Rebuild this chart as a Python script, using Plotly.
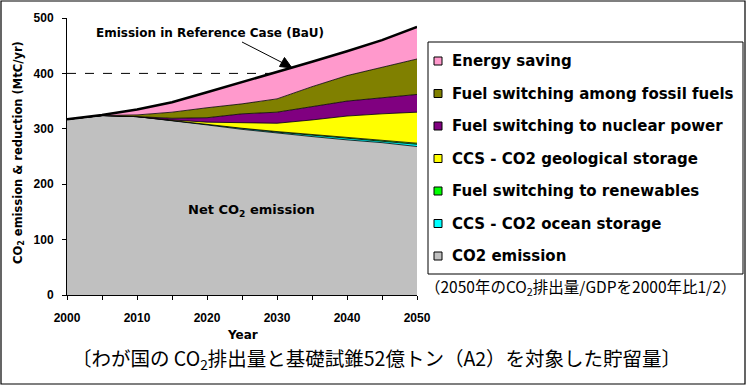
import numpy as np
import plotly.graph_objects as go

# ---------------- data ----------------
years = [2000, 2005, 2010, 2015, 2020, 2025, 2030, 2035, 2040, 2045, 2050]
net_co2 = [317, 324, 322, 315, 307, 299, 292, 286, 280, 275, 268]
ocean_storage = [0, 0, 0, 0, 0, 1, 2, 2.5, 3, 3.5, 4]
renewables = [0, 0, 0, 0, 0.5, 1, 1, 1.5, 1.5, 1.5, 2]
geo_storage = [0, 0, 0, 1, 4.5, 10, 15, 26, 38.5, 47, 56]
nuclear = [0, 0, 0, 3, 8, 16, 20, 24, 27, 29, 32]
fossil_switch = [0, 0, 3, 11, 18, 18, 24, 36, 46, 55, 64]
energy_saving = [0, 1, 10, 18, 28, 39, 48, 45, 44, 49, 58]

series_names = ["CO2 emission", "CCS - CO2 ocean storage", "Fuel switching to renewables",
                "CCS - CO2 geological storage", "Fuel switching to nuclear power",
                "Fuel switching among fossil fuels", "Energy saving"]
series_values = [net_co2, ocean_storage, renewables, geo_storage, nuclear, fossil_switch, energy_saving]
series_colors = ["#C0C0C0", "#00FFFF", "#00FF00", "#FFFF00", "#800080", "#808000", "#FF99CC"]

x_tick_vals = [2000, 2010, 2020, 2030, 2040, 2050]
x_minor_vals = [2005, 2015, 2025, 2035, 2045]
y_tick_vals = [0, 100, 200, 300, 400, 500]
reference_level = 400

# ---------------- layout geometry (pixels) ----------------
W, H = 750, 388
PL, PR, PT, PB = 67, 417, 18, 295  # plot area in pixels


def px(xp):
    return (xp - PL) / (PR - PL)


def py(yp):
    return (PB - yp) / (PB - PT)


FONT = "Arial, Liberation Sans, sans-serif"
WFONT = "DejaVu Sans, sans-serif"
JFONT = "Noto Sans CJK JP, sans-serif"

fig = go.Figure()
for name, vals, col in zip(series_names, series_values, series_colors):
    is_top = name == "Energy saving"
    fig.add_trace(go.Scatter(
        x=years, y=vals, name=name, stackgroup="one", mode="lines",
        fillcolor=col,
        line=dict(color="black", width=2.5 if is_top else 0.8),
        showlegend=False,
    ))

bau = np.sum(np.array(series_values, dtype=float), axis=0)
x_cross = float(np.interp(reference_level, bau, years))

shapes = []
annotations = []

shapes.append(dict(type="line", xref="x", yref="y", x0=years[0], x1=x_cross,
                   y0=reference_level, y1=reference_level,
                   line=dict(color="black", width=1, dash="dash"), layer="above"))

shapes.append(dict(type="rect", xref="paper", yref="paper",
                   x0=px(1), x1=px(745), y0=py(384), y1=py(1),
                   line=dict(color="black", width=1.2), fillcolor="rgba(0,0,0,0)"))

shapes.append(dict(type="rect", xref="paper", yref="paper",
                   x0=px(428), x1=px(743), y0=py(274), y1=py(42),
                   line=dict(color="black", width=1), fillcolor="white"))

legend_order = list(range(len(series_names)))[::-1]
for i, idx in enumerate(legend_order):
    yc = 61 + 32.5 * i
    shapes.append(dict(type="rect", xref="paper", yref="paper",
                       x0=px(434), x1=px(442), y0=py(yc + 4), y1=py(yc - 4),
                       line=dict(color="black", width=1), fillcolor=series_colors[idx]))
    annotations.append(dict(xref="paper", yref="paper", x=px(450), y=py(yc),
                            xanchor="left", yanchor="middle", showarrow=False,
                            text=series_names[idx],
                            font=dict(family=WFONT, size=15, color="black", weight="bold")))

annotations.append(dict(xref="paper", yref="paper", x=px(210), y=py(33),
                        xanchor="center", yanchor="middle", showarrow=False,
                        text="Emission in Reference Case (BaU)",
                        font=dict(family=WFONT, size=12, color="black", weight="bold")))
# arrow from the label to the BaU line
shapes.append(dict(type="line", xref="paper", yref="paper",
                   x0=px(242), y0=py(42), x1=px(282), y1=py(62.5),
                   line=dict(color="black", width=1)))
shapes.append(dict(type="path", xref="paper", yref="paper",
                   path="M {:.4f} {:.4f} L {:.4f} {:.4f} L {:.4f} {:.4f} Z".format(
                       px(292), py(68), px(279.5), py(66.5), px(284.5), py(57.5)),
                   line=dict(color="black", width=1), fillcolor="black"))

annotations.append(dict(xref="paper", yref="paper", x=px(251), y=py(210),
                        xanchor="center", yanchor="middle", showarrow=False,
                        text="Net CO<sub>2</sub> emission",
                        font=dict(family=WFONT, size=13, color="black", weight="bold")))

annotations.append(dict(xref="paper", yref="paper", x=px(18), y=py(153),
                        xanchor="center", yanchor="middle", showarrow=False, textangle=-90,
                        text="CO<sub>2</sub> emission & reduction (MtC/yr)",
                        font=dict(family=WFONT, size=11.5, color="black", weight="bold")))
annotations.append(dict(xref="paper", yref="paper", x=px(242), y=py(335),
                        xanchor="center", yanchor="middle", showarrow=False,
                        text="Year",
                        font=dict(family=WFONT, size=12, color="black", weight="bold")))

annotations.append(dict(xref="paper", yref="paper", x=px(580), y=py(287),
                        xanchor="center", yanchor="middle", showarrow=False,
                        text="（2050年のCO<sub>2</sub>排出量/GDPを2000年比1/2）",
                        font=dict(family=JFONT, size=15.5, color="black")))
annotations.append(dict(xref="paper", yref="paper", x=px(376), y=py(358),
                        xanchor="center", yanchor="middle", showarrow=False,
                        text="〔わが国の CO<sub>2</sub>排出量と基礎試錐52億トン（A2）を対象した貯留量〕",
                        font=dict(family=JFONT, size=19.5, color="black")))

fig.update_layout(
    width=W, height=H,
    margin=dict(l=PL, r=W - PR, t=PT, b=H - PB, pad=0),
    paper_bgcolor="white", plot_bgcolor="white",
    showlegend=False,
    shapes=shapes, annotations=annotations,
    xaxis=dict(range=[years[0], years[-1]], tickvals=x_tick_vals,
               showgrid=False, zeroline=False, showline=True, linecolor="black", linewidth=1,
               ticks="outside", ticklen=4, tickcolor="black", ticklabelstandoff=8,
               minor=dict(tickvals=x_minor_vals, ticks="outside", ticklen=4,
                          tickcolor="black", showgrid=False),
               tickfont=dict(family=FONT, size=12, color="black", weight="bold")),
    yaxis=dict(range=[0, 500], tickvals=y_tick_vals,
               showgrid=False, zeroline=False, showline=True, linecolor="black", linewidth=1,
               ticks="outside", ticklen=4, tickcolor="black", ticklabelstandoff=6,
               tickfont=dict(family=FONT, size=12, color="black", weight="bold")),
)

fig.write_html("out.html", config={"displayModeBar": False},
               post_script="document.body.style.margin='0';")
